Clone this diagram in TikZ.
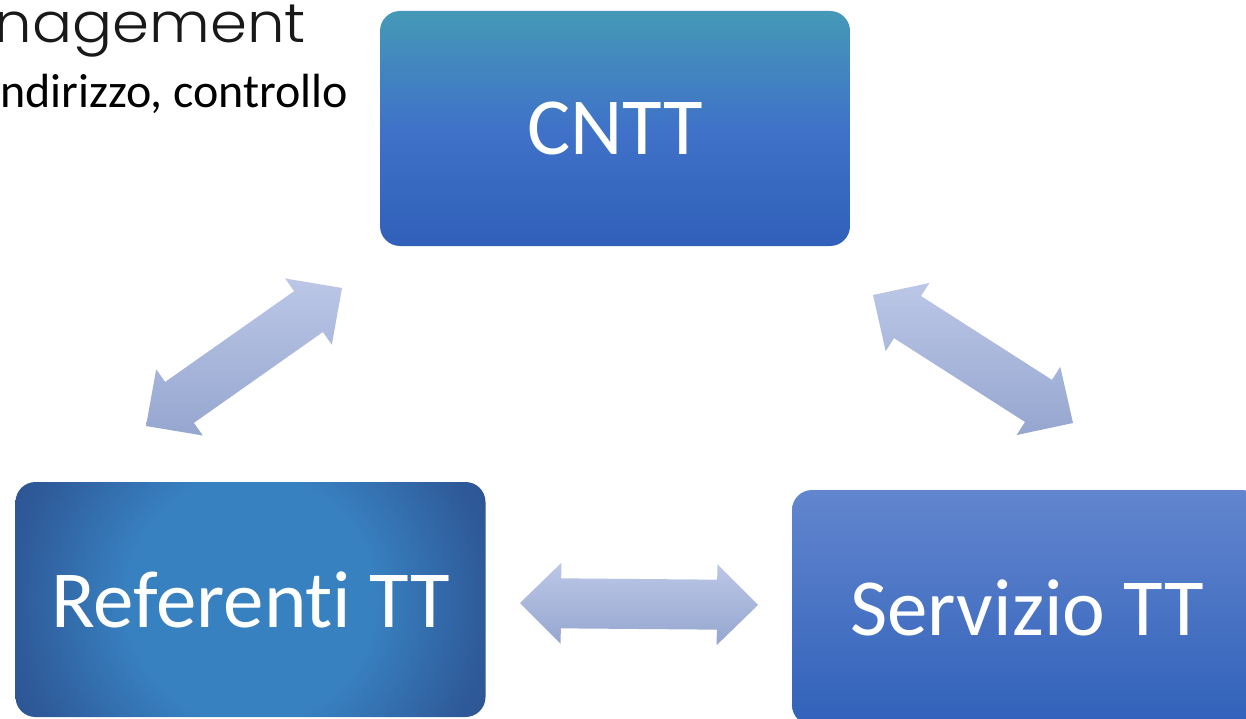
\documentclass[tikz,border=0pt]{standalone}
\usepackage{fontspec}
\setmainfont{Carlito}[Ligatures={NoCommon}]
\newfontfamily\titlefont{Poppins}[UprightFont=* Light]
\usetikzlibrary{calc}

\definecolor{cnttTop}{HTML}{4599B7}
\definecolor{cnttMid}{HTML}{3F72C8}
\definecolor{cnttBot}{HTML}{3060B9}
\definecolor{servTop}{HTML}{6286CE}
\definecolor{servBot}{HTML}{3161BA}
\definecolor{refIn}{HTML}{3881C1}
\definecolor{refOut}{HTML}{2C4F8E}
\definecolor{arrTop}{HTML}{BCC7E7}
\definecolor{arrBot}{HTML}{95A6CF}

\pgfdeclareverticalshading{cnttshade}{100bp}{%
  color(0bp)=(cnttBot); color(25bp)=(cnttBot); color(50bp)=(cnttMid);
  color(75bp)=(cnttTop); color(100bp)=(cnttTop)}
\pgfdeclareverticalshading{servshade}{100bp}{%
  color(0bp)=(servBot); color(25bp)=(servBot);
  color(75bp)=(servTop); color(100bp)=(servTop)}
\pgfdeclareradialshading{refshade}{\pgfpoint{0bp}{0bp}}{%
  color(0bp)=(refIn); color(9bp)=(refIn); color(17bp)=(refOut!75!refIn);
  color(21bp)=(refOut); color(50bp)=(refOut)}
\pgfdeclareverticalshading{arrshade}{100bp}{%
  color(0bp)=(arrBot); color(25bp)=(arrBot);
  color(75bp)=(arrTop); color(100bp)=(arrTop)}

% double-headed block arrow between two tip coordinates
\newcommand\blockarrow[2]{%
  \def\hl{41pt}\def\hw{40.5pt}\def\sw{25pt}%
  \shade[shading=arrshade]
    (#1)
    -- ($(#1)!\hl!(#2)!\hw!90:(#2)$)
    -- ($(#1)!\hl!(#2)!\sw!90:(#2)$)
    -- ($(#2)!\hl!(#1)!\sw!-90:(#1)$)
    -- ($(#2)!\hl!(#1)!\hw!-90:(#1)$)
    -- (#2)
    -- ($(#2)!\hl!(#1)!\hw!90:(#1)$)
    -- ($(#2)!\hl!(#1)!\sw!90:(#1)$)
    -- ($(#1)!\hl!(#2)!\sw!-90:(#2)$)
    -- ($(#1)!\hl!(#2)!\hw!-90:(#2)$)
    -- cycle;}

\tikzset{
  box/.style={rectangle, rounded corners=20pt, minimum width=470pt,
    minimum height=235pt, inner sep=0pt, text=white,
    font=\fontsize{81}{90}\selectfont},
}

\begin{document}
\begin{tikzpicture}[x=1pt,y=-1pt]
\useasboundingbox (0,0) rectangle (1246,719);
\clip (0,0) rectangle (1246,719);

% heading lines
\node[anchor=base east, inner sep=0pt, text=black!90,
  font=\titlefont\fontsize{55}{60}\selectfont] (title) at (306,43)
  {\scalebox{1.08}[1]{nagement}};
\node[anchor=base west, inner sep=0pt, text=black,
  font=\fontsize{48}{52}\selectfont] (sub) at (0,108) {ndirizzo, controllo};

% the three boxes
\node[box, shading=cnttshade] (cntt) at (615,128.5) {CNTT};
\node[box, path picture={\shade[shading=refshade]
  (path picture bounding box.center) circle (340pt);}] (ref) at (250.5,599.5) {Referenti TT};
\node[box, shading=servshade] (serv) at (1027,607.5) {Servizio TT};

% arrow tips
\coordinate (lA) at (146,426);
\coordinate (lB) at (342,288);
\coordinate (rA) at (873,295);
\coordinate (rB) at (1073,423);
\coordinate (hA) at (520,603);
\coordinate (hB) at (758,605);

\blockarrow{lA}{lB}
\blockarrow{rA}{rB}
\blockarrow{hA}{hB}
\end{tikzpicture}
\end{document}
